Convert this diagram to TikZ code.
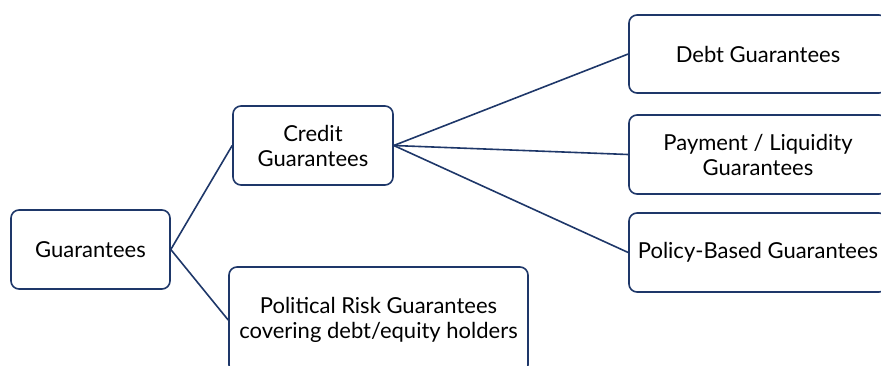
\documentclass[tikz,border=0pt]{standalone}
\usepackage{fontspec}
\setmainfont{Lato}
\usetikzlibrary{positioning}
\definecolor{navyline}{RGB}{30, 55, 105}

\begin{document}
\begin{tikzpicture}[
    x=1pt, y=-1pt,
    font=\fontsize{22}{25}\selectfont,
    % Box styles
    gbox/.style={
        draw=navyline,
        fill=white,
        rounded corners=8pt,
        line width=1.6pt,
        align=center,
        inner sep=0pt,
        minimum height=79pt
    },
    leafbox/.style={
        gbox,
        minimum width=258pt
    },
    link/.style={
        draw=navyline,
        line width=1.6pt
    }
]
    \useasboundingbox (0,0) rectangle (881,365);

    % =========================================================================
    % 1. ROOT AND MIDDLE LEVEL
    % =========================================================================
    \node[gbox, minimum width=159pt] (root) at (90.5, 249.5) {Guarantees};

    \node[gbox, minimum width=160pt] (credit) at (313, 145.5) {
        Credit\\
        Guarantees
    };

    \node[gbox, minimum width=299pt, minimum height=106pt] (political) at (378.5, 320) {
        Political Risk Guarantees\\
        covering debt/equity holders
    };

    % =========================================================================
    % 2. CREDIT GUARANTEE TYPES (Right Side)
    % =========================================================================
    \node[leafbox, minimum height=78pt] (debt) at (758, 54) {Debt Guarantees};

    \node[leafbox] (payment) at (758, 154.5) {
        Payment / Liquidity\\
        Guarantees
    };

    \node[leafbox] (policy) at (758, 252.5) {Policy-Based Guarantees};

    % =========================================================================
    % 3. CONNECTORS
    % =========================================================================
    \draw[link] (root.east) -- (credit.west);
    \draw[link] (root.east) -- (political.west);

    \draw[link] (credit.east) -- (debt.west);
    \draw[link] (credit.east) -- (payment.west);
    \draw[link] (credit.east) -- (policy.west);

\end{tikzpicture}
\end{document}
